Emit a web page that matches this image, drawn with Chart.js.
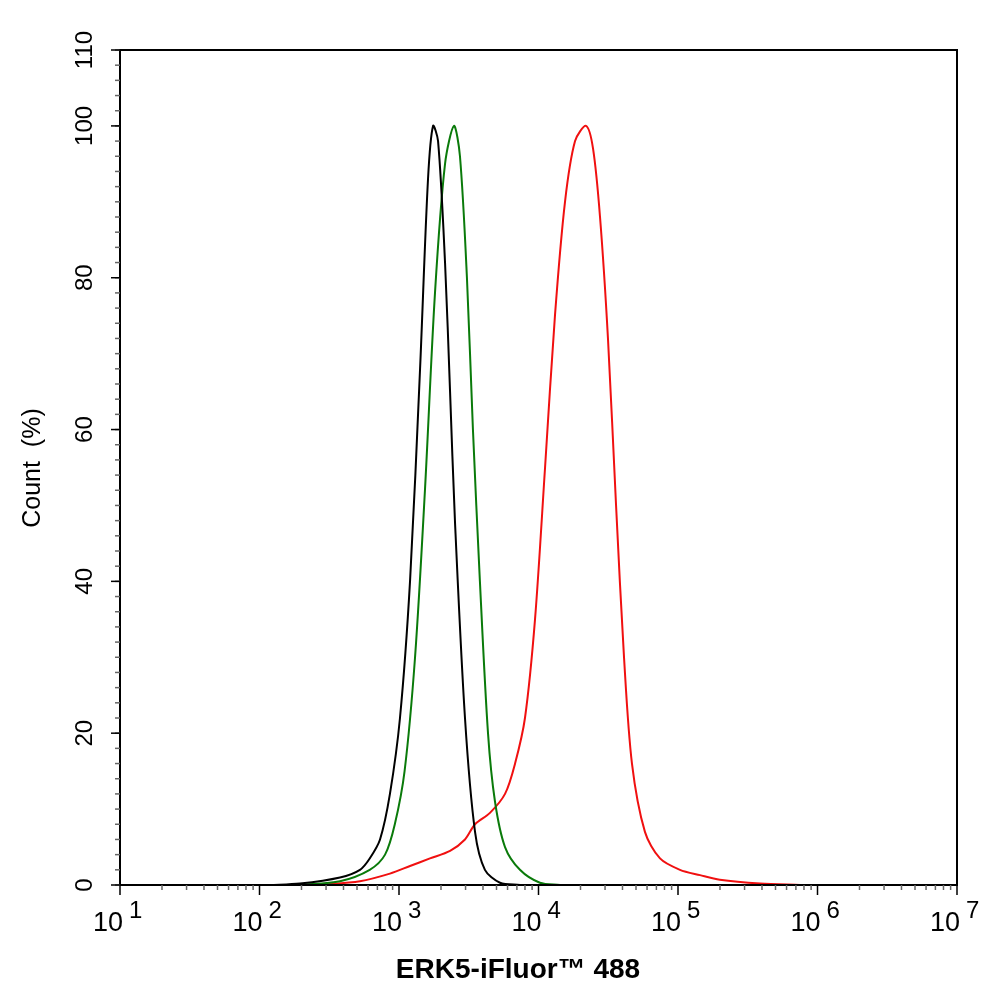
<!DOCTYPE html>
<html>
<head>
<script src="https://cdn.jsdelivr.net/npm/chart.js@4/dist/chart.umd.min.js"></script>
<style>html,body{margin:0;background:#fff}#wrap{width:994px;height:1002px}</style>
</head>
<body>
<div id="wrap"><canvas id="c"></canvas></div>
<script>
"use strict";

// x values are log10 of fluorescence intensity
const blackX = [2.075, 2.29, 2.577, 2.72, 2.79, 2.864, 2.935, 3.007, 3.079, 3.151, 3.208, 3.244, 3.28, 3.33, 3.366, 3.401, 3.473, 3.545, 3.616, 3.724, 3.867];
const blackY = [0, 0.2, 1, 2, 3.5, 6, 12, 22, 40, 68, 93, 100, 98, 82, 65, 48, 22, 7, 2, 0.3, 0];
const greenX = [2.29, 2.577, 2.79, 2.9, 2.97, 3.04, 3.115, 3.186, 3.258, 3.33, 3.394, 3.437, 3.487, 3.53, 3.58, 3.638, 3.688, 3.76, 3.867, 4.01, 4.154];
const greenY = [0, 0.5, 2, 4, 8, 15, 30, 52, 78, 95, 100, 96, 80, 60, 40, 20, 11, 5, 2, 0.3, 0];
const redX = [2.43, 2.72, 2.935, 3.079, 3.222, 3.366, 3.473, 3.545, 3.652, 3.76, 3.832, 3.903, 3.975, 4.047, 4.118, 4.19, 4.262, 4.341, 4.391, 4.441, 4.498, 4.556, 4.613, 4.67, 4.763, 4.871, 5.014, 5.158, 5.3, 5.588, 5.875];
const redY = [0, 0.5, 1.5, 2.5, 3.5, 4.5, 6, 8, 9.5, 12, 16, 22, 35, 55, 75, 90, 98, 100, 97, 88, 72, 50, 30, 16, 7, 3.5, 2, 1.3, 0.7, 0.2, 0];
const xDecades = [1, 2, 3, 4, 5, 6, 7];
const yLabels = [0, 20, 40, 60, 80, 100, 110];

function pts(xs, ys) { return xs.map((x, i) => ({x: x, y: ys[i]})); }

function line(data, color) {
  return {data: data, borderColor: color, borderWidth: 2, pointRadius: 0, tension: 0.3, fill: false};
}

const axesPlugin = {
  id: "axes",
  afterDraw(chart) {
    const ctx = chart.ctx, xs = chart.scales.x, ys = chart.scales.y, a = chart.chartArea;
    ctx.save();
    ctx.strokeStyle = "#000";
    ctx.lineWidth = 2;
    ctx.strokeRect(a.left, a.top, a.right - a.left, a.bottom - a.top);
    ctx.fillStyle = "#000";
    // x ticks
    ctx.lineWidth = 1.5;
    xDecades.forEach(d => {
      const p = xs.getPixelForValue(d);
      ctx.beginPath(); ctx.moveTo(p, a.bottom); ctx.lineTo(p, a.bottom + 10); ctx.stroke();
      ctx.font = "27px Arial, 'Liberation Sans'";
      ctx.textAlign = "right"; ctx.textBaseline = "alphabetic";
      ctx.fillText("10", p + 3, a.bottom + 46);
      ctx.font = "24px Arial, 'Liberation Sans'";
      ctx.textAlign = "left";
      ctx.fillText(String(d), p + 9, a.bottom + 33);
      if (d < 7) {
        ctx.strokeStyle = "#666";
        for (let m = 2; m < 10; m++) {
          const q = xs.getPixelForValue(d + Math.log10(m));
          ctx.beginPath(); ctx.moveTo(q, a.bottom); ctx.lineTo(q, a.bottom + 5); ctx.stroke();
        }
        ctx.strokeStyle = "#000";
      }
    });
    // y ticks
    ctx.strokeStyle = "#666";
    for (let v = 0; v <= 110; v += 2) {
      const p = ys.getPixelForValue(v);
      ctx.beginPath(); ctx.moveTo(a.left, p); ctx.lineTo(a.left - 5, p); ctx.stroke();
    }
    ctx.strokeStyle = "#000";
    ctx.font = "24px Arial, 'Liberation Sans'";
    ctx.textAlign = "center"; ctx.textBaseline = "middle";
    yLabels.forEach(v => {
      const p = ys.getPixelForValue(v);
      ctx.beginPath(); ctx.moveTo(a.left, p); ctx.lineTo(a.left - 9, p); ctx.stroke();
      ctx.save(); ctx.translate(a.left - 35, p); ctx.rotate(-Math.PI / 2);
      ctx.fillText(String(v), 0, 0); ctx.restore();
    });
    // titles
    ctx.save(); ctx.translate(33, 468); ctx.rotate(-Math.PI / 2);
    ctx.font = "25px Arial, 'Liberation Sans'";
    ctx.fillText("Count  (%)", 0, 0); ctx.restore();
    ctx.font = "bold 28px Arial, 'Liberation Sans'";
    ctx.fillText("ERK5-iFluor\u2122 488", 518, 970);
    ctx.restore();
  }
};

new Chart(document.getElementById("c"), {
  type: "line",
  data: {datasets: [line(pts(blackX, blackY), "#000"), line(pts(greenX, greenY), "#0a7a0a"), line(pts(redX, redY), "#f01010")]},
  options: {
    responsive: true, maintainAspectRatio: false, animation: false,
    layout: {padding: {left: 120, right: 37, top: 50, bottom: 117}},
    scales: {
      x: {type: "linear", min: 1, max: 7, display: false},
      y: {min: 0, max: 110, display: false}
    },
    plugins: {legend: {display: false}, tooltip: {enabled: false}}
  },
  plugins: [axesPlugin]
});
</script>
</body>
</html>
